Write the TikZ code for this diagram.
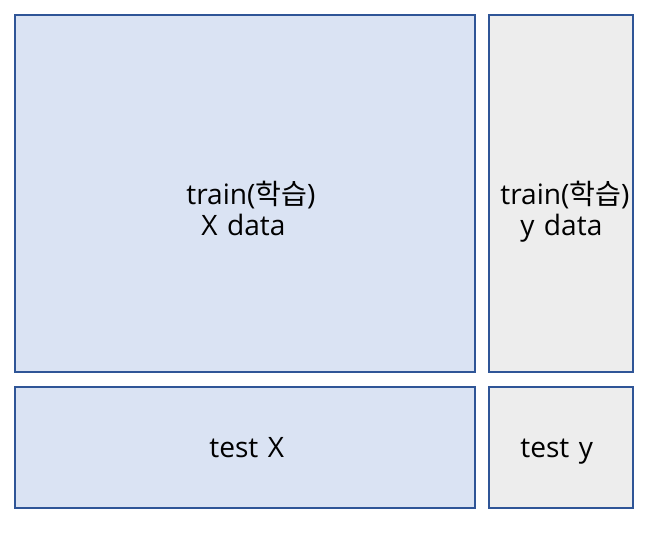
\documentclass[tikz,border=0pt]{standalone}
\usepackage{fontspec}
\setmainfont[WordSpace=1.3]{Open Sans}
\newfontfamily\kr{Noto Sans CJK KR}
\usetikzlibrary{positioning}
\definecolor{edgeblue}{HTML}{2F5597}
\definecolor{xfill}{HTML}{DAE3F3}
\definecolor{yfill}{HTML}{EDEDED}
\tikzset{
  part/.style = {rectangle, draw = edgeblue, line width = 1.4pt, inner sep = 0pt},
  xpart/.style = {part, fill = xfill},
  ypart/.style = {part, fill = yfill},
  caption/.style = {font = \fontsize{16}{18.2}\selectfont, text = black, inner sep = 0pt, anchor = base west}
}
\begin{document}
\begin{tikzpicture}[x = 0.02cm, y = -0.02cm]
    \useasboundingbox (0,0) rectangle (670,546);
    % data blocks
    \node (trainX) [xpart, minimum width = 9.2cm, minimum height = 7.14cm] at (245,193.5) {};
    \node (trainY) [ypart, minimum width = 2.88cm, minimum height = 7.14cm] at (561,193.5) {};
    \node (testX) [xpart, minimum width = 9.2cm, minimum height = 2.42cm] at (245,447.5) {};
    \node (testY) [ypart, minimum width = 2.88cm, minimum height = 2.42cm] at (561,447.5) {};
    % labels
    \node (trainXtext) [caption, align = left] at (186,236) {train({\kr 학습})\\\hspace*{0.3cm}X data};
    \node (trainYtext) [caption, align = left] at (500,236) {train({\kr 학습})\\\hspace*{0.4cm}y data};
    \node (testXtext) [caption] at (209,458) {test X};
    \node (testYtext) [caption] at (520,458) {test y};
\end{tikzpicture}
\end{document}
